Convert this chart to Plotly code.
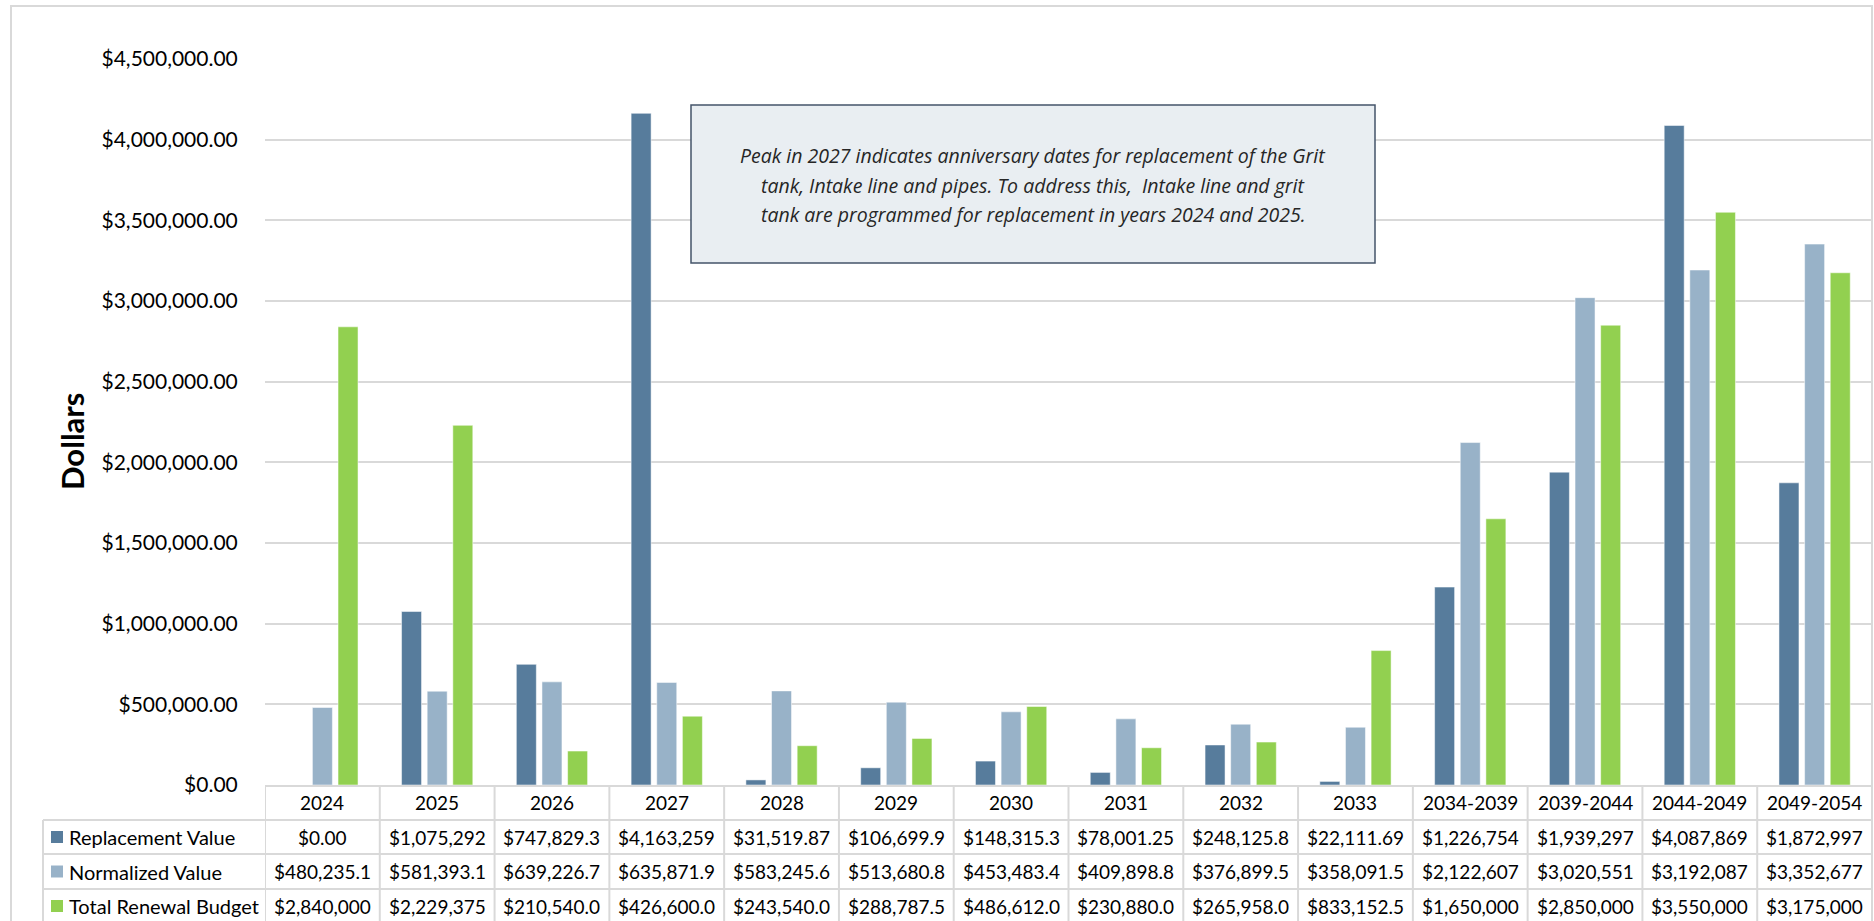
import plotly.graph_objects as go

# ---- data ----
categories = ["2024", "2025", "2026", "2027", "2028", "2029", "2030", "2031",
              "2032", "2033", "2034-2039", "2039-2044", "2044-2049", "2049-2054"]
replacement_value = [0.00, 1075292, 747829.3, 4163259, 31519.87, 106699.9, 148315.3,
                     78001.25, 248125.8, 22111.69, 1226754, 1939297, 4087869, 1872997]
normalized_value = [480235.1, 581393.1, 639226.7, 635871.9, 583245.6, 513680.8, 453483.4,
                    409898.8, 376899.5, 358091.5, 2122607, 3020551, 3192087, 3352677]
total_renewal_budget = [2840000, 2229375, 210540.0, 426600.0, 243540.0, 288787.5, 486612.0,
                        230880.0, 265958.0, 833152.5, 1650000, 2850000, 3550000, 3175000]

series = [
    ("Replacement Value", replacement_value, "#577C9C"),
    ("Normalized Value", normalized_value, "#98B2C8"),
    ("Total Renewal Budget", total_renewal_budget, "#92D050"),
]

note_lines = [
    "Peak in 2027 indicates anniversary dates for replacement of the Grit",
    "tank, Intake line and pipes. To address this,  Intake line and grit",
    "tank are programmed for replacement in years 2024 and 2025.",
]

# ---- page geometry (pixels) ----
W, H = 1874, 921
PL, PR, PT, PB = 265, 1872, 59, 785
GRID = "#D9D9D9"
FONT = "Lato"


def px(x):
    return (x - PL) / (PR - PL)


def py(y):
    return (PB - y) / (PB - PT)


def money(v):
    # currency text squeezed into a fixed-width cell
    for d in (2, 1, 0):
        s = f"${v:,.{d}f}"
        if len(s) <= 10:
            return s
    return s


fig = go.Figure()
for name, vals, color in series:
    fig.add_trace(go.Bar(
        name=name, x=categories, y=vals,
        marker=dict(color=color, line=dict(color="rgba(255,255,255,0.5)", width=1)),
        showlegend=False,
    ))

shapes = []
annotations = []

# outer chart border
shapes.append(dict(type="rect", xref="paper", yref="paper",
                   x0=px(11), x1=px(1872), y0=py(6), y1=py(930),
                   line=dict(color=GRID, width=2), fillcolor="rgba(0,0,0,0)", layer="below"))

# data table grid
for i in range(len(categories) + 1):
    shapes.append(dict(type="line", xref="x", yref="paper",
                       x0=i - 0.5, x1=i - 0.5, y0=py(786), y1=py(930),
                       line=dict(color=GRID, width=2)))
for y in (820, 854, 889):
    shapes.append(dict(type="line", xref="paper", yref="paper",
                       x0=px(43), x1=px(1872), y0=py(y), y1=py(y),
                       line=dict(color=GRID, width=2)))
shapes.append(dict(type="line", xref="paper", yref="paper",
                   x0=px(43), x1=px(43), y0=py(820), y1=py(930),
                   line=dict(color=GRID, width=2)))

# header row: category labels (positioned by category index)
for i, c in enumerate(categories):
    annotations.append(dict(x=i, y=py(803), xref="x", yref="paper", text=c,
                            showarrow=False, font=dict(family=FONT, size=19, color="#000"),
                            xanchor="center", yanchor="middle"))

# value rows with legend keys
row_centers = [837, 871.5, 906]
for (name, vals, color), yc in zip(series, row_centers):
    shapes.append(dict(type="rect", xref="paper", yref="paper",
                       x0=px(51), x1=px(63), y0=py(yc - 6), y1=py(yc + 6),
                       line=dict(width=0), fillcolor=color))
    annotations.append(dict(x=px(67), y=py(yc), xref="paper", yref="paper", text=name,
                            showarrow=False, font=dict(family=FONT, size=20, color="#000"),
                            xanchor="left", yanchor="middle"))
    for i, v in enumerate(vals):
        annotations.append(dict(x=i, y=py(yc), xref="x", yref="paper", text=money(v),
                                showarrow=False, font=dict(family=FONT, size=19, color="#000"),
                                xanchor="center", yanchor="middle"))

# y-axis title
annotations.append(dict(x=px(72), y=py(442), xref="paper", yref="paper", text="<b>Dollars</b>",
                        textangle=-90, showarrow=False,
                        font=dict(family=FONT, size=31, color="#000"),
                        xanchor="center", yanchor="middle"))

# note box
shapes.append(dict(type="rect", xref="paper", yref="paper",
                   x0=px(691), x1=px(1375), y0=py(105), y1=py(263),
                   line=dict(color="#44546A", width=1.5), fillcolor="#E9EEF2"))
for line, yc in zip(note_lines, [156, 185, 214]):
    annotations.append(dict(x=px(1033), y=py(yc), xref="paper", yref="paper",
                            text=f"<i>{line}</i>", showarrow=False,
                            font=dict(family="Open Sans", size=19.5, color="#262626"),
                            xanchor="center", yanchor="middle"))

fig.update_layout(
    width=W, height=H,
    margin=dict(l=PL, r=W - PR, t=PT, b=H - PB, pad=0),
    paper_bgcolor="white", plot_bgcolor="white",
    barmode="group", bargap=0.33, bargroupgap=0.22,
    shapes=shapes, annotations=annotations,
    xaxis=dict(type="category", range=[-0.5, len(categories) - 0.5],
               showticklabels=False, showgrid=False, zeroline=False,
               showline=True, linecolor=GRID, linewidth=2, ticks=""),
    yaxis=dict(range=[0, 4500000], dtick=500000, tickprefix="$", tickformat=",.2f",
               showgrid=True, gridcolor=GRID, gridwidth=2, zeroline=False,
               showline=False, ticks="outside", ticklen=22, tickcolor="rgba(0,0,0,0)",
               tickfont=dict(family=FONT, size=21, color="#000")),
)

fig.write_html("out.html")
